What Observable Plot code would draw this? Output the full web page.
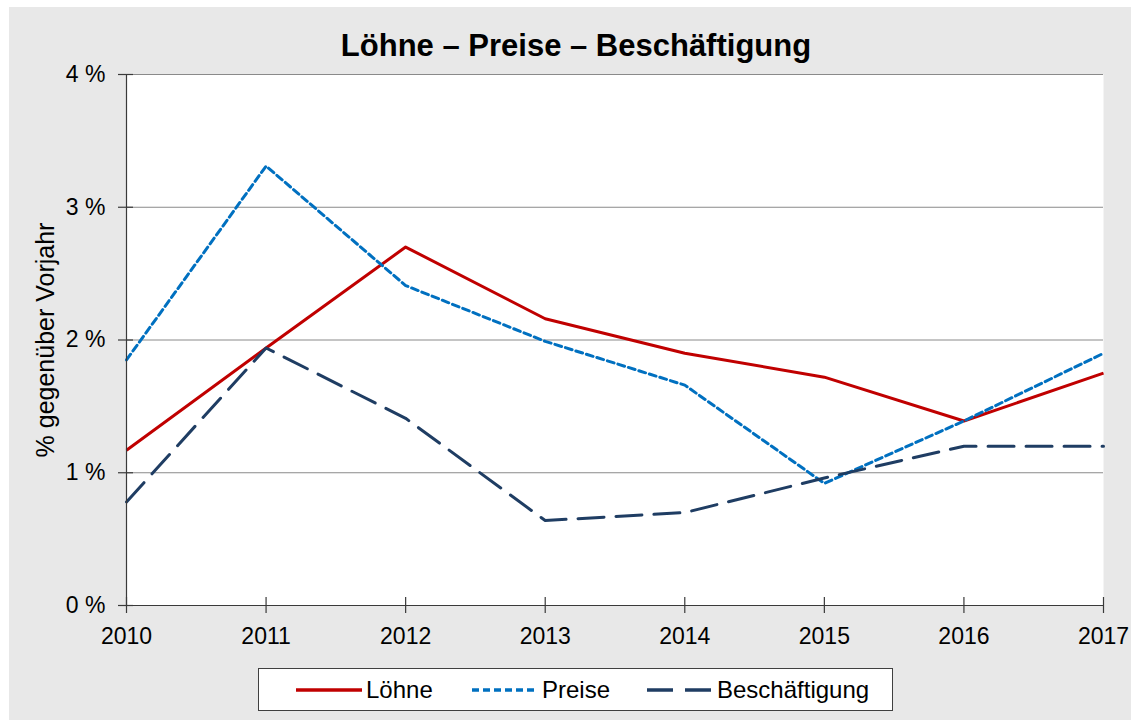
<!DOCTYPE html>
<html>
<head>
<meta charset="utf-8">
<script src="https://cdn.jsdelivr.net/npm/d3@7"></script>
<script src="https://cdn.jsdelivr.net/npm/@observablehq/plot@0.6"></script>
<style>
  html, body { margin: 0; padding: 0; background: #ffffff; }
  body { width: 1131px; height: 720px; overflow: hidden; position: relative; font-family: "Liberation Sans", Arial, sans-serif; }
  #panel { position: absolute; left: 9px; top: 7px; width: 1122px; height: 713px; background: #e8e8e8; }
  #title { position: absolute; left: 0; top: 0; width: 1134px; text-align: center; font-weight: bold; font-size: 31px; color: #000; line-height: 1; padding-top: 23px; }
  #chart { position: absolute; left: 0; top: 50px; }
  #chart svg { overflow: visible; }
  #legend { position: absolute; left: 249px; top: 661px; width: 633px; height: 41px; background: #fff; border: 1px solid #404040; display: flex; align-items: center; font-size: 24px; color: #000; }
  .item { display: flex; align-items: center; position: absolute; top: 0; height: 41px; }
  .item svg { display: block; }
  .item span { margin-left: 3px; }
</style>
</head>
<body>
<div id="panel">
  <div id="title">Löhne – Preise – Beschäftigung</div>
  <div id="chart"></div>
  <div id="legend"></div>
</div>
<script>
const years = [2010, 2011, 2012, 2013, 2014, 2015, 2016, 2017];
const loehne = [1.17, 1.94, 2.70, 2.16, 1.90, 1.72, 1.39, 1.75];
const preise = [1.85, 3.31, 2.41, 1.99, 1.66, 0.92, 1.39, 1.90];
const beschaeftigung = [0.78, 1.94, 1.41, 0.64, 0.70, 0.96, 1.20, 1.20];
const yTicks = [0, 1, 2, 3, 4];
const seriesNames = ["Löhne", "Preise", "Beschäftigung"];
const seriesColors = ["#c00000", "#0070c0", "#1f3d63"];
const seriesDash = [null, "7,4", "26,12"];
const yLabel = "% gegenüber Vorjahr";

const seriesValues = [loehne, preise, beschaeftigung];
const rows = seriesNames.flatMap((name, s) =>
  years.map((year, i) => ({ series: name, year, value: seriesValues[s][i] }))
);

const lineMarks = seriesNames.map((name, s) =>
  Plot.line(rows.filter(d => d.series === name), {
    x: "year", y: "value",
    stroke: seriesColors[s], strokeWidth: 3,
    strokeDasharray: seriesDash[s] || undefined,
    strokeLinecap: s === 0 ? "butt" : "round",
    strokeLinejoin: "round"
  })
);

const axisColor = "#3a3a3a";
const gridColor = "#8a8a8a";

const chart = Plot.plot({
  width: 1122,
  height: 605,
  marginLeft: 117,
  marginRight: 28,
  marginTop: 17,
  marginBottom: 57,
  style: { fontFamily: "Liberation Sans, Arial, sans-serif", fontSize: "23px", color: "#000", background: "transparent" },
  x: { domain: [2010, 2017] },
  y: { domain: [0, 4] },
  marks: [
    Plot.frame({ fill: "#ffffff", stroke: "none" }),
    Plot.ruleY(yTicks.filter(d => d > 0), { stroke: gridColor, strokeWidth: 1 }),
    ...lineMarks,
    Plot.ruleX([2010], { stroke: axisColor, strokeWidth: 1.2 }),
    Plot.ruleY([0], { stroke: axisColor, strokeWidth: 1.2 }),
    Plot.ruleX(years, { x: d => d, y1: 0, y2: 0, insetTop: -8, insetBottom: -8, stroke: axisColor, strokeWidth: 1.2 }),
    Plot.ruleY(yTicks, { y: d => d, x1: 2010, x2: 2010, insetLeft: -8, insetRight: -7, stroke: axisColor, strokeWidth: 1.2 }),
    Plot.axisX(years, { tickSize: 0, tickPadding: 22, tickFormat: d => String(d), label: null, fontSize: 23 }),
    Plot.axisY(yTicks, { tickSize: 0, tickPadding: 21, tickFormat: d => d + " %", label: null, fontSize: 23 }),
    Plot.axisY({ ticks: [], tickSize: 0, label: yLabel, labelAnchor: "center", labelArrow: "none", labelOffset: 90, fontSize: 25 })
  ]
});
document.getElementById("chart").appendChild(chart);

// legend
const legend = document.getElementById("legend");
const positions = [36, 212, 387];
seriesNames.forEach((name, s) => {
  const item = document.createElement("div");
  item.className = "item";
  item.style.left = positions[s] + "px";
  const sw = d3.create("svg").attr("width", 68).attr("height", 10);
  sw.append("line").attr("x1", 1).attr("x2", 67).attr("y1", 5).attr("y2", 5)
    .attr("stroke", seriesColors[s]).attr("stroke-width", 3.5)
    .attr("stroke-dasharray", s === 1 ? "7,4" : s === 2 ? "26,12" : null);
  item.appendChild(sw.node());
  const label = document.createElement("span");
  label.textContent = name;
  item.appendChild(label);
  legend.appendChild(item);
});
</script>
</body>
</html>
